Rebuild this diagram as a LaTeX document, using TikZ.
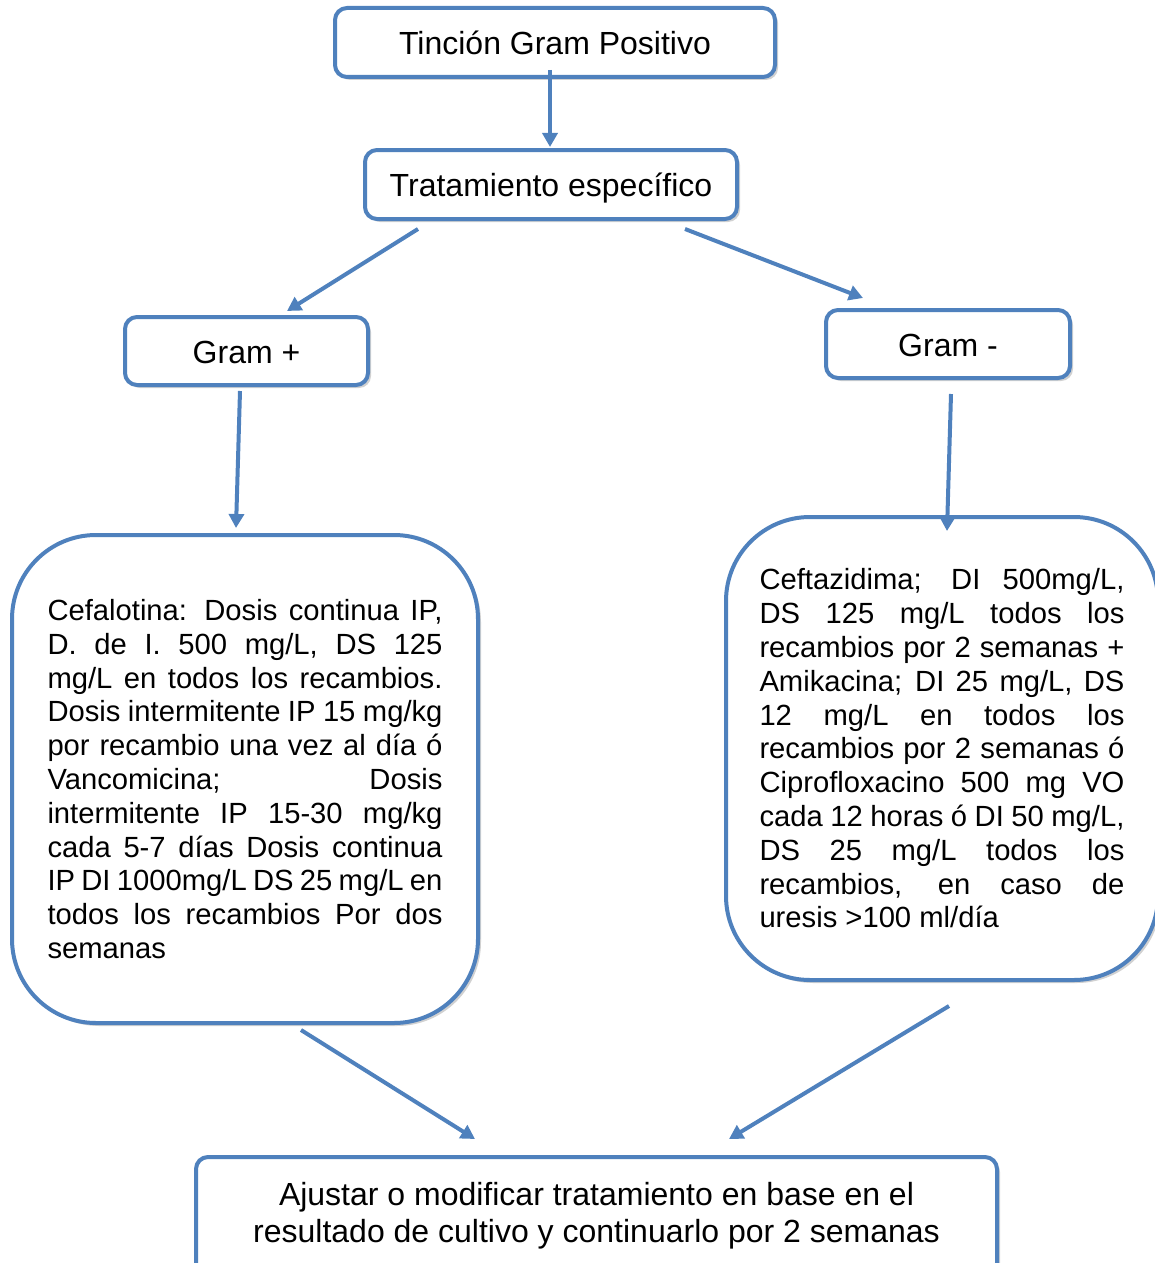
\documentclass[tikz,border=0pt]{standalone}
\usepackage{fontspec}
\setmainfont{Liberation Sans}
\usetikzlibrary{arrows.meta,shadows}
\definecolor{obl}{HTML}{4F81BD}
\begin{document}
\hyphenpenalty=10000 \exhyphenpenalty=10000 \hbadness=10000 \hfuzz=4pt
\begin{tikzpicture}[x=0.5pt,y=-0.5pt,
  box/.style={draw=obl, line width=2pt, rounded corners=6pt, fill=white,
    drop shadow={shadow xshift=1.5pt, shadow yshift=-1.5pt, opacity=0.3, fill=black!60},
    inner sep=0pt, font=\fontsize{16}{18.5}\selectfont},
  smallbox/.style={box, text height=14pt, text depth=2pt},
  bigbox/.style={box, rounded corners=42pt, align=justify, font=\fontsize{14.6}{16.9}\selectfont},
  arr/.style={draw=obl, line width=2pt, -{Triangle[width=7.5pt,length=7pt]}}]
\useasboundingbox (0,0) rectangle (1155,1263);

\node[smallbox, minimum width=220pt, minimum height=34.5pt] (top) at (555,42.5) {Tinción Gram Positivo};
\node[smallbox, minimum width=186pt, minimum height=34.5pt] (trat) at (551,184.5) {Tratamiento específico};
\node[smallbox, minimum width=121.5pt, minimum height=34pt] (gp) at (246.5,351) {Gram +};
\node[smallbox, minimum width=122pt, minimum height=34pt] (gn) at (948,344) {Gram -};

\node[bigbox, text width=197.5pt, minimum width=233pt, minimum height=244pt] (left) at (245,779)
{Cefalotina: Dosis continua IP,\linebreak
D. de I. 500 mg/L, DS 125\linebreak
mg/L en todos los recambios.\linebreak
Dosis intermitente IP 15 mg/kg\linebreak
por recambio una vez al día ó\linebreak
Vancomicina; Dosis\linebreak
intermitente IP 15-30 mg/kg\linebreak
cada 5-7 días Dosis continua\linebreak
IP DI 1000mg/L DS 25 mg/L en\linebreak
todos los recambios Por dos\linebreak
semanas};

\node[bigbox, text width=182.5pt, minimum width=216pt, minimum height=231.5pt] (right) at (942,748.5)
{Ceftazidima; DI 500mg/L,\linebreak
DS 125 mg/L todos los\linebreak
recambios por 2 semanas +\linebreak
Amikacina; DI 25 mg/L, DS\linebreak
12 mg/L en todos los\linebreak
recambios por 2 semanas ó\linebreak
Ciprofloxacino 500 mg VO\linebreak
cada 12 horas ó DI 50 mg/L,\linebreak
DS 25 mg/L todos los\linebreak
recambios, en caso de\linebreak
uresis >100 ml/día};

\node[box, minimum width=400.5pt, minimum height=59pt, align=center,
  font=\fontsize{16}{18.5}\selectfont] (bot) at (596.5,1216)
{Ajustar o modificar tratamiento en base en el\\resultado de cultivo y continuarlo por 2 semanas};

\coordinate (a1s) at (550,70);   \coordinate (a1e) at (550,147);
\coordinate (a2s) at (418,229);  \coordinate (a2e) at (287,311);
\coordinate (a3s) at (685,229);  \coordinate (a3e) at (863,298);
\coordinate (a4s) at (240,391);  \coordinate (a4e) at (236,528);
\coordinate (a5s) at (951,394);  \coordinate (a5e) at (947,531);
\coordinate (a6s) at (301,1030); \coordinate (a6e) at (475,1139);
\coordinate (a7s) at (949,1006); \coordinate (a7e) at (729,1139);

\draw[arr] (a1s) -- (a1e);
\draw[arr] (a2s) -- (a2e);
\draw[arr] (a3s) -- (a3e);
\draw[arr] (a4s) -- (a4e);
\draw[arr] (a5s) -- (a5e);
\draw[arr] (a6s) -- (a6e);
\draw[arr] (a7s) -- (a7e);
\end{tikzpicture}
\end{document}
